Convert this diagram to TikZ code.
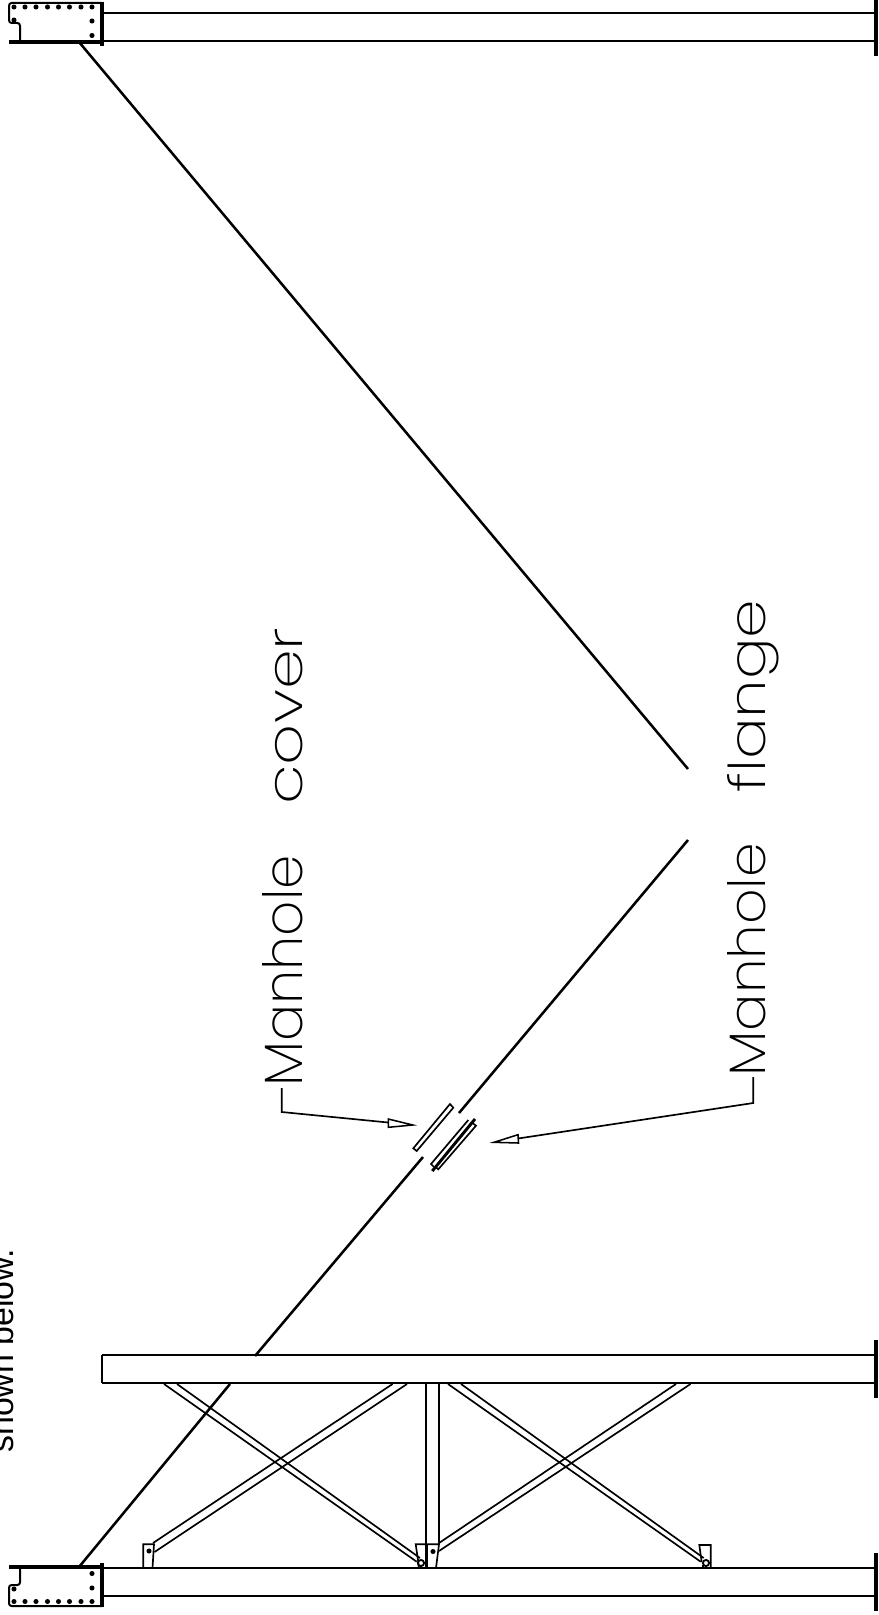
\documentclass[tikz,border=0pt]{standalone}
\usepackage{fontspec}
\setmainfont{Liberation Sans}
\newfontfamily\cadfont{Poppins}[UprightFont=* ExtraLight]
\tikzset{
  thin line/.style={line width=1.25pt,line join=miter},
  beam line/.style={line width=1.5pt},
  heavy line/.style={line width=3pt},
  diag line/.style={line width=1.9pt},
  box line/.style={line width=1.5pt,rounded corners=2pt},
  bolt/.style={circle,fill=black,inner sep=0pt,minimum size=3.8pt},
  ringbolt/.style={circle,draw=black,line width=1.4pt,inner sep=0pt,minimum size=4.6pt},
  cadlabel/.style={rotate=90,anchor=base west,inner sep=0pt},
  tip/.style={line width=1.15pt,line join=miter,fill=white}
}
\begin{document}
\begin{tikzpicture}[x=.75pt,y=-.75pt]
\useasboundingbox (0,0) rectangle (878,1615);
% clipped caption
\node[rotate=90,anchor=base west,inner sep=0pt,font=\fontsize{25.4pt}{25.4pt}\selectfont] (cap) at (13.5,1453) {shown below.};
% beams
\draw[beam line] (102,13)--(875,13) (102,41)--(875,41);
\draw[beam line] (102,1355)--(875,1355) (102,1383)--(875,1383) (102,1355)--(102,1383);
\draw[beam line] (102,1568)--(875,1568) (102,1596)--(875,1596);
\draw[heavy line] (875.5,-2)--(875.5,56);
\draw[heavy line] (875.5,1340)--(875.5,1398);
\draw[heavy line] (875.5,1553)--(875.5,1611);
% top end box
\draw[box line] (20,42)--(20,23)--(9,23)--(9,3)--(102,3);
\draw[heavy line] (9,42.5)--(103,42.5);
\draw[heavy line] (101.5,2)--(101.5,46);
% bottom end box
\draw[box line] (20,1567)--(20,1585)--(9,1585)--(9,1606)--(102,1606);
\draw[heavy line] (9,1566.5)--(103,1566.5);
\draw[heavy line] (101.5,1563)--(101.5,1607);
\foreach \px/\n in {14/a,25/b,36/c,47.5/d,58.5/e,69.5/f,81/g,92/h}{
  \node[bolt] (t\n) at (\px,7) {};
  \node[bolt] (u\n) at (\px,1601.5) {};
}
\node[bolt] (t1) at (14,20) {};
\node[bolt] (t2) at (92,21) {};
\node[bolt] (t3) at (92,35.5) {};
\node[bolt] (u1) at (14,1589) {};
\node[bolt] (u2) at (92,1588) {};
\node[bolt] (u3) at (92,1573.5) {};
% diagonal
\draw[diag line] (79,42)--(688,769);
\draw[diag line] (688,840)--(459,1113);
\draw[diag line] (423,1157)--(255,1356);
\draw[diag line] (230,1384)--(79,1567);
% manhole cover
\draw[thin line] (450,1104)--(453.3,1107.7)--(416.7,1151)--(413.3,1148.3)--cycle;
% manhole flange
\draw[thin line] (468.3,1120)--(431,1164)--(434,1167);
\draw[thin line] (472.5,1123)--(476,1125.7)--(438.3,1169.3)--(435,1166.5);
\draw[line width=2.2pt] (475,1119)--(432.3,1171);
% braces
\draw[thin line] (153,1543)--(392.6,1384) (154.5,1552)--(407,1384);
\draw[thin line] (439,1543)--(676,1384) (439,1551)--(690.5,1384);
\draw[thin line] (177,1384)--(420,1558) (164,1384)--(416.7,1561.7);
\draw[thin line] (461,1384)--(703.7,1558) (448,1384)--(700.7,1561.7);
\draw[thin line] (426,1384)--(426,1546) (439,1384)--(439,1544);
% gussets
\draw[thin line] (143.3,1568)--(143.3,1544.3)--(154,1544.3)--(152.5,1568);
\node[bolt] (g1) at (149,1551) {};
\draw[thin line] (418.3,1562)--(415.7,1544.3)--(439,1544.3)--(436,1568);
\draw[line width=2.8pt] (426.5,1544.3)--(426.5,1568);
\node[bolt] (g2) at (433,1551.5) {};
\node[ringbolt] (g3) at (421,1563) {};
\draw[thin line] (418,1563)--(419,1568);
\draw[thin line] (701.7,1562)--(699.3,1545)--(710.7,1545)--(710.7,1568);
\node[ringbolt] (g4) at (706,1563) {};
\draw[thin line] (703,1565)--(703,1568);
% labels
\node[cadlabel] (lc) at (302,1087) {\resizebox{174pt}{30pt}{\cadfont Manhole}\hspace{37.5pt}\resizebox{132.75pt}{20.5pt}{\cadfont cover}};
\node[cadlabel] (lf) at (765,1077) {\resizebox{175.5pt}{28.5pt}{\cadfont Manhole}\hspace{37.5pt}\resizebox{145pt}{28.5pt}{\cadfont flange}};
% leaders
\coordinate (c0) at (281.7,1088);
\coordinate (c1) at (281.7,1112);
\coordinate (c2) at (388.3,1122.5);
\coordinate (c3) at (412.7,1125);
\coordinate (f0) at (753.3,1077);
\coordinate (f1) at (753.3,1103);
\coordinate (f2) at (518,1138.5);
\coordinate (f3) at (494,1142.3);
\draw[thin line] (c0)--(c1)--(c2);
\draw[tip] (c3)--(388.3,1119)--(388.3,1127.3)--cycle;
\draw[thin line] (f0)--(f1)--(f2);
\draw[tip] (f3)--(518,1134.7)--(518.5,1143)--cycle;
\end{tikzpicture}
\end{document}
